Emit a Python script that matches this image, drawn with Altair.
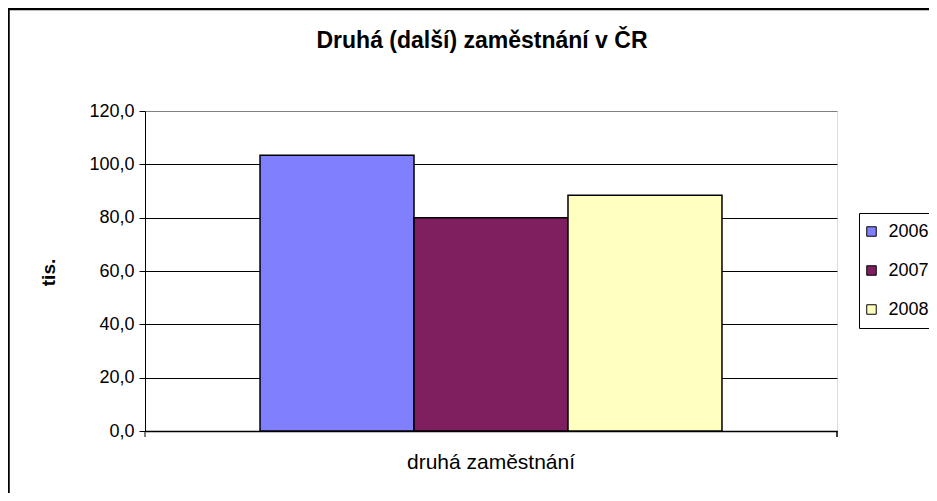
import altair as alt
import pandas as pd

# data
kategorie = ["druhá zaměstnání"]
roky = ["2006", "2007", "2008"]
hodnoty = [103.4, 80.0, 88.4]
barvy = ["#8080FF", "#7F1F5F", "#FFFFC0"]
y_ticks = [0, 20, 40, 60, 80, 100, 120]

df = pd.DataFrame({"kat": kategorie * len(roky), "rok": roky, "hodnota": hodnoty})

W, H = 692, 320
PL, PT = 137, 103
PR = 921 - PL - W
PB = 485 - PT - H

bars = alt.Chart(df).mark_bar(stroke="black", strokeWidth=1.5).encode(
    x=alt.X("kat:N", scale=alt.Scale(paddingInner=0, paddingOuter=0.249),
            axis=alt.Axis(title=None, labelAngle=0, ticks=False, domainColor="black",
                          domainWidth=1.5, labelPadding=20, labelFontSize=21,
                          labelColor="black", labelFont="Liberation Sans")),
    xOffset=alt.XOffset("rok:N", scale=alt.Scale(paddingInner=0, paddingOuter=0)),
    y=alt.Y("hodnota:Q", scale=alt.Scale(domain=[0, 120], nice=False),
            axis=alt.Axis(values=y_ticks,
                          labelExpr="replace(format(datum.value, '.1f'), '.', ',')",
                          grid=True,
                          gridColor=alt.condition("datum.value == 120", alt.value("#808080"), alt.value("black")),
                          gridWidth=1, tickColor="black", tickSize=6, domainColor="black",
                          labelPadding=5, labelFontSize=18, labelColor="black",
                          labelFont="Liberation Sans",
                          title="tis.", titleFontSize=19, titleFontWeight="bold",
                          titleFont="Liberation Sans", titleColor="black",
                          titleAngle=270, titleX=-97, titleY=161,
                          titleAlign="center", titleBaseline="middle")),
    color=alt.Color("rok:N", scale=alt.Scale(domain=roky, range=barvy),
                    legend=alt.Legend(title=None, orient="none", legendX=714, legendY=102,
                                      strokeColor="black", padding=9.5, rowPadding=21,
                                      symbolType="square", symbolSize=90, symbolOffset=-6,
                                      symbolStrokeColor="black", symbolStrokeWidth=1,
                                      labelFontSize=18, labelFont="Liberation Sans",
                                      labelColor="black", labelOffset=8)),
)

edge_ticks = alt.Chart(pd.DataFrame({"p": [0]})).mark_rule(color="black", strokeWidth=1).encode(
    x=alt.value(0), y=alt.value(H), y2=alt.value(H + 6)
)
edge_ticks2 = alt.Chart(pd.DataFrame({"p": [0]})).mark_rule(color="black", strokeWidth=1.5).encode(
    x=alt.value(W), y=alt.value(H), y2=alt.value(H + 6)
)

frame = alt.Chart(pd.DataFrame({"p": [0]})).mark_rect(
    fillOpacity=0, stroke="black", strokeWidth=2.5
).encode(
    x=alt.value(-PL + 0.5), x2=alt.value(W + PR + 20),
    y=alt.value(-PT + 1), y2=alt.value(H + PB + 20)
)

chart = alt.layer(bars, edge_ticks, edge_ticks2, frame).properties(
    width=W, height=H,
    title=alt.Title("Druhá (další) zaměstnání v ČR", fontSize=23, fontWeight="bold",
                    font="Liberation Sans", color="black", offset=-45, dx=-9),
    autosize=alt.AutoSizeParams(type="none"),
    padding={"left": PL, "top": PT, "right": PR, "bottom": PB},
).configure_view(
    fill="#C0C0C0", stroke="#808080", strokeWidth=1.5
).configure(
    font="Liberation Sans", background="white"
)

chart.save("out.html", embed_options={"renderer": "svg", "actions": False})
